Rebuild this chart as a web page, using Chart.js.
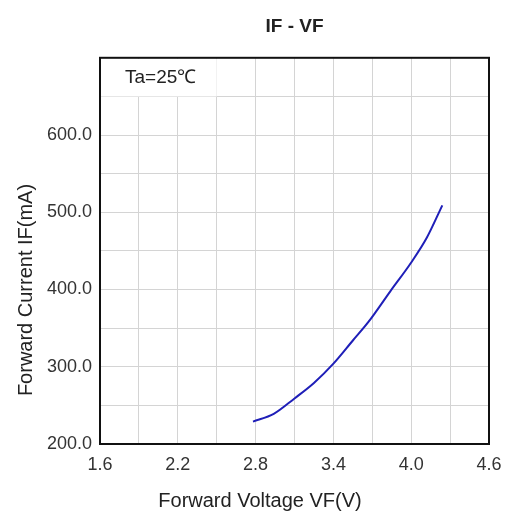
<!DOCTYPE html>
<html>
<head>
<meta charset="utf-8">
<script src="https://cdn.jsdelivr.net/npm/chart.js@4"></script>
<style>
  html, body { margin: 0; padding: 0; background: #fff; }
  #wrap { width: 512px; height: 516px; }
</style>
</head>
<body>
<div id="wrap"><canvas id="ivChart"></canvas></div>
<script>
const voltage = [2.78, 2.94, 3.10, 3.25, 3.40, 3.55, 3.67, 3.84, 4.00, 4.12, 4.24];
const current = [229, 239, 259, 279, 304, 334, 358, 398, 435, 467, 509];

const xMin = 1.6, xMax = 4.6, xStep = 0.3;
const yMin = 200, yMax = 700, yStep = 50;
const yLabels = ['200.0', '300.0', '400.0', '500.0', '600.0'];

const chartTitle = 'IF - VF';
const xTitle = 'Forward Voltage VF(V)';
const yTitle = 'Forward Current IF(mA)';
const noteText = 'Ta=25\u2103';

const FONT = '"Liberation Sans", Arial, sans-serif';

// frame, Ta label box and axis titles
const framePlugin = {
    id: 'frame',
    afterDraw(chart) {
        const { ctx, chartArea: a, scales } = chart;
        const boxRight = scales.x.getPixelForValue(2.5);
        const boxBottom = scales.y.getPixelForValue(650);
        ctx.save();
        ctx.fillStyle = '#fff';
        ctx.fillRect(a.left + 1, a.top + 1, boxRight - a.left - 1, boxBottom - a.top - 1);
        ctx.fillStyle = '#222';
        ctx.font = '19px ' + FONT;
        ctx.textBaseline = 'middle';
        ctx.textAlign = 'left';
        ctx.fillText(noteText, a.left + 25, (a.top + boxBottom) / 2 + 1);

        ctx.strokeStyle = '#111';
        ctx.lineWidth = 2;
        ctx.strokeRect(a.left, a.top, a.right - a.left, a.bottom - a.top);

        // axis titles
        ctx.font = '20px ' + FONT;
        ctx.textAlign = 'center';
        ctx.fillText(xTitle, 260, 501);
        ctx.translate(26, 290);
        ctx.rotate(-Math.PI / 2);
        ctx.fillText(yTitle, 0, 0);
        ctx.restore();
    }
};

new Chart(document.getElementById('ivChart').getContext('2d'), {
    type: 'line',
    data: {
        datasets: [{
            label: chartTitle,
            data: voltage.map((v, i) => ({ x: v, y: current[i] })),
            borderColor: '#1f1fb8',
            borderWidth: 2,
            pointRadius: 0,
            cubicInterpolationMode: 'monotone',
            fill: false
        }]
    },
    options: {
        responsive: true,
        maintainAspectRatio: false,
        animation: false,
        layout: { padding: { left: 0, right: 23, top: 0, bottom: 0 } },
        plugins: {
            legend: { display: false },
            title: {
                display: true,
                text: chartTitle,
                fullSize: false,
                color: '#222',
                font: { family: FONT, size: 19, weight: 'bold' },
                padding: { top: 15, bottom: 20 }
            },
            tooltip: { enabled: false }
        },
        scales: {
            x: {
                type: 'linear',
                min: xMin,
                max: xMax,
                afterFit(scale) { scale.height = 72; },
                grid: { color: '#d4d4d4', drawTicks: false },
                border: { display: false },
                ticks: {
                    stepSize: xStep,
                    padding: 10,
                    color: '#333',
                    font: { family: FONT, size: 18 },
                    maxRotation: 0,
                    autoSkip: false,
                    callback: (v, i) => (i % 2 === 0 ? Number(v).toFixed(1) : '')
                }
            },
            y: {
                type: 'linear',
                min: yMin,
                max: yMax,
                afterFit(scale) { scale.width = 100; },
                grid: { color: '#d4d4d4', drawTicks: false },
                border: { display: false },
                ticks: {
                    stepSize: yStep,
                    padding: 8,
                    color: '#333',
                    font: { family: FONT, size: 18 },
                    autoSkip: false,
                    callback: v => {
                        const s = Number(v).toFixed(1);
                        return yLabels.includes(s) ? s : '';
                    }
                }
            }
        }
    },
    plugins: [framePlugin]
});
</script>
</body>
</html>
